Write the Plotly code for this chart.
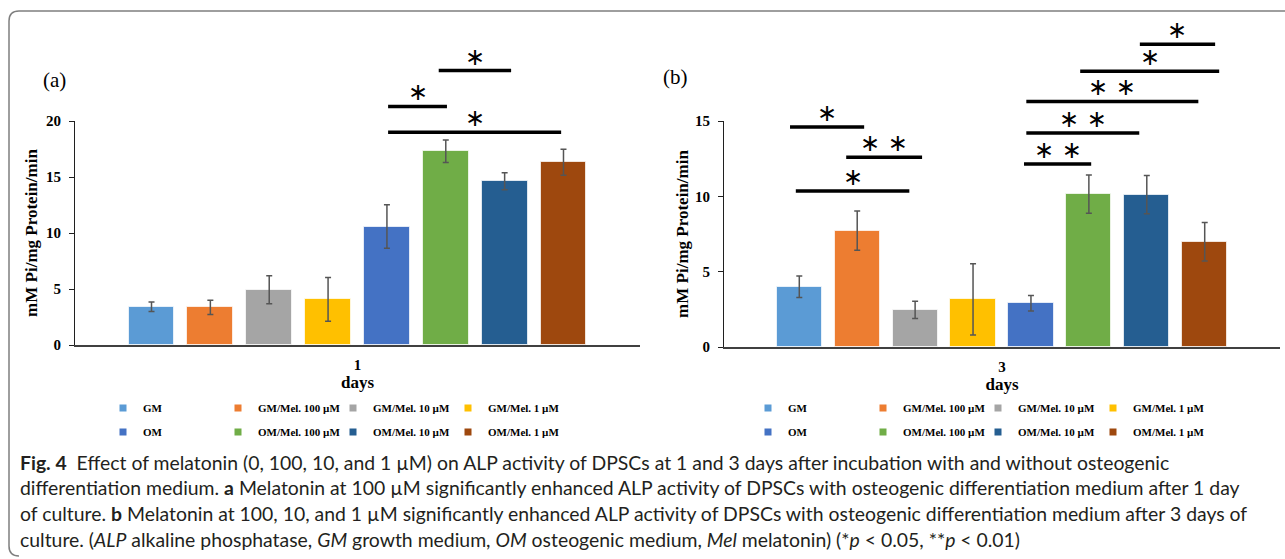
import plotly.graph_objects as go

W, H = 1285, 559

groups = ["GM", "GM/Mel. 100 µM", "GM/Mel. 10 µM", "GM/Mel. 1 µM",
          "OM", "OM/Mel. 100 µM", "OM/Mel. 10 µM", "OM/Mel. 1 µM"]
colors = ["#5B9BD5", "#ED7D31", "#A5A5A5", "#FFC000",
          "#4472C4", "#70AD47", "#255E91", "#9E480E"]

day1_mean = [3.42, 3.36, 4.93, 4.07, 10.58, 17.30, 14.62, 16.32]
day1_err = [0.42, 0.64, 1.25, 1.96, 1.95, 1.00, 0.76, 1.16]
day3_mean = [4.00, 7.72, 2.46, 3.16, 2.90, 10.15, 10.11, 6.99]
day3_err = [0.72, 1.30, 0.57, 2.36, 0.51, 1.27, 1.27, 1.28]

# significance brackets: start, end (bar index units), level (y units), label
day1_sig_x0 = [4.02, 4.02, 4.88]
day1_sig_x1 = [6.96, 5.02, 6.11]
day1_sig_y = [19.0, 21.3, 24.5]
day1_sig_lbl = ["∗", "∗", "∗"]

day3_sig_x0 = [-0.16, 0.81, -0.06, 3.88, 3.92, 3.92, 4.85, 5.88]
day3_sig_x1 = [1.12, 2.12, 1.90, 5.04, 5.87, 6.89, 7.25, 7.18]
day3_sig_y = [14.6, 12.6, 10.35, 12.15, 14.2, 16.3, 18.3, 20.1]
day3_sig_lbl = ["∗", "∗ ∗", "∗", "∗ ∗", "∗ ∗", "∗ ∗", "∗", "∗"]

ymax1, ymax3 = 20, 15
tick1 = [0, 5, 10, 15, 20]
tick3 = [0, 5, 10, 15]

caption = [
    "<b>Fig. 4</b>  Effect of melatonin (0, 100, 10, and 1 µM) on ALP activity of DPSCs at 1 and 3 days after incubation with and without osteogenic",
    "differentiation medium. <b>a</b> Melatonin at 100 µM significantly enhanced ALP activity of DPSCs with osteogenic differentiation medium after 1 day",
    "of culture. <b>b</b> Melatonin at 100, 10, and 1 µM significantly enhanced ALP activity of DPSCs with osteogenic differentiation medium after 3 days of",
    "culture. (<i>ALP</i> alkaline phosphatase, <i>GM</i> growth medium, <i>OM</i> osteogenic medium, <i>Mel</i> melatonin) (*<i>p</i> &lt; 0.05, **<i>p</i> &lt; 0.01)",
]


def px(x):
    return x / W


def py(y):
    return 1 - y / H


SERIF = "Liberation Serif, Times New Roman, serif"
SANS = "Lato, Open Sans, sans-serif"

fig = go.Figure()

panels = [
    ("x", "y", day1_mean, day1_err, ["legend", "legend2"]),
    ("x2", "y2", day3_mean, day3_err, ["legend3", "legend4"]),
]
for xa, ya, mean, err, legs in panels:
    for i, (g, c) in enumerate(zip(groups, colors)):
        fig.add_trace(go.Bar(
            x=[i], y=[mean[i]], width=0.78, xaxis=xa, yaxis=ya,
            marker=dict(color=c, line=dict(color="rgba(255,255,255,0.7)", width=1)),
            error_y=dict(type="data", array=[err[i]], color="#555555", thickness=1.5, width=3),
            showlegend=False, name=g,
        ))
    for i, (g, c) in enumerate(zip(groups, colors)):
        fig.add_trace(go.Scatter(
            x=[None], y=[None], xaxis=xa, yaxis=ya, mode="markers",
            marker=dict(symbol="square", size=7, color=c),
            name=g, legend=legs[0] if i < 4 else legs[1], showlegend=True,
        ))

xr = [-1.3, 8.3]
axis_common = dict(showgrid=False, zeroline=False)
tickf = dict(family=SERIF, size=15, color="black", weight="bold")
titlef = dict(family=SERIF, size=17, color="black", weight="bold")
fig.update_layout(
    width=W, height=H, margin=dict(l=0, r=0, t=0, b=0, autoexpand=False),
    paper_bgcolor="white", plot_bgcolor="white", bargap=0,
    xaxis=dict(domain=[px(75), px(640)], range=xr, anchor="y",
               tickvals=[3.5], ticktext=["1"], showline=True, linecolor="#404040", linewidth=2,
               ticks="", ticklabelstandoff=5, tickfont=tickf,
               title=dict(text="days", standoff=4, font=titlef), **axis_common),
    yaxis=dict(domain=[py(345), py(121)], range=[0, ymax1], anchor="x",
               tickvals=tick1, showline=True, linecolor="#202020", linewidth=1,
               ticks="outside", ticklen=5, tickcolor="#202020", tickfont=tickf,
               ticklabelstandoff=5,
               title=dict(text="mM Pi/mg Protein/min", standoff=4, font=titlef), **axis_common),
    xaxis2=dict(domain=[px(724), px(1280)], range=xr, anchor="y2",
                tickvals=[3.5], ticktext=["3"], showline=True, linecolor="#404040", linewidth=2,
                ticks="", ticklabelstandoff=5, tickfont=tickf,
                title=dict(text="days", standoff=4, font=titlef), **axis_common),
    yaxis2=dict(domain=[py(347), py(121)], range=[0, ymax3], anchor="x2",
                tickvals=tick3, showline=True, linecolor="#202020", linewidth=1,
                ticks="outside", ticklen=5, tickcolor="#202020", tickfont=tickf,
                ticklabelstandoff=5,
                title=dict(text="mM Pi/mg Protein/min", standoff=2, font=titlef), **axis_common),
)

leg_style = dict(orientation="h", entrywidth=70, entrywidthmode="pixels",
                 xanchor="left", yanchor="middle", bgcolor="rgba(0,0,0,0)",
                 font=dict(family=SERIF, size=11, color="black", weight="bold"),
                 itemclick=False, itemdoubleclick=False, tracegroupgap=0)
fig.update_layout(
    legend=dict(x=px(103), y=py(408), **leg_style),
    legend2=dict(x=px(103), y=py(432), **leg_style),
    legend3=dict(x=px(748), y=py(408), **leg_style),
    legend4=dict(x=px(748), y=py(432), **leg_style),
)

shapes = []
annotations = []
for xa, ya, x0s, x1s, ys, lbls, ymax in [
    ("x", "y", day1_sig_x0, day1_sig_x1, day1_sig_y, day1_sig_lbl, ymax1),
    ("x2", "y2", day3_sig_x0, day3_sig_x1, day3_sig_y, day3_sig_lbl, ymax3),
]:
    for x0, x1, yv, lb in zip(x0s, x1s, ys, lbls):
        shapes.append(dict(type="line", xref=xa, yref=ya + " domain",
                           x0=x0, x1=x1, y0=yv / ymax, y1=yv / ymax,
                           line=dict(color="black", width=3.5)))
        annotations.append(dict(xref=xa, yref=ya + " domain", x=(x0 + x1) / 2, y=yv / ymax,
                                text=lb, showarrow=False, xanchor="center", yanchor="middle",
                                yshift=14,
                                font=dict(family="DejaVu Sans", size=24, color="black")))

annotations.append(dict(xref="paper", yref="paper", x=px(54), y=py(80), text="(a)",
                        xanchor="center", yanchor="middle",
                        showarrow=False, font=dict(family=SERIF, size=21, color="black")))
annotations.append(dict(xref="paper", yref="paper", x=px(675), y=py(77), text="(b)",
                        xanchor="center", yanchor="middle",
                        showarrow=False, font=dict(family=SERIF, size=21, color="black")))

for k, line in enumerate(caption):
    annotations.append(dict(xref="paper", yref="paper", x=px(18), y=py(462 + 25.7 * k),
                            xanchor="left", yanchor="middle", text=line, showarrow=False,
                            font=dict(family=SANS, size=19.4, color="#231F20")))

# outer frame
path = (f"M {px(19)},{py(556)} Q {px(9)},{py(556)} {px(9)},{py(546)} "
        f"L {px(9)},{py(21)} Q {px(9)},{py(11)} {px(19)},{py(11)} L {px(1285)},{py(11)}")
shapes.append(dict(type="path", xref="paper", yref="paper", path=path,
                   line=dict(color="#7F7F7F", width=1.5)))

fig.update_layout(shapes=shapes, annotations=annotations)
fig.write_html("out.html")
